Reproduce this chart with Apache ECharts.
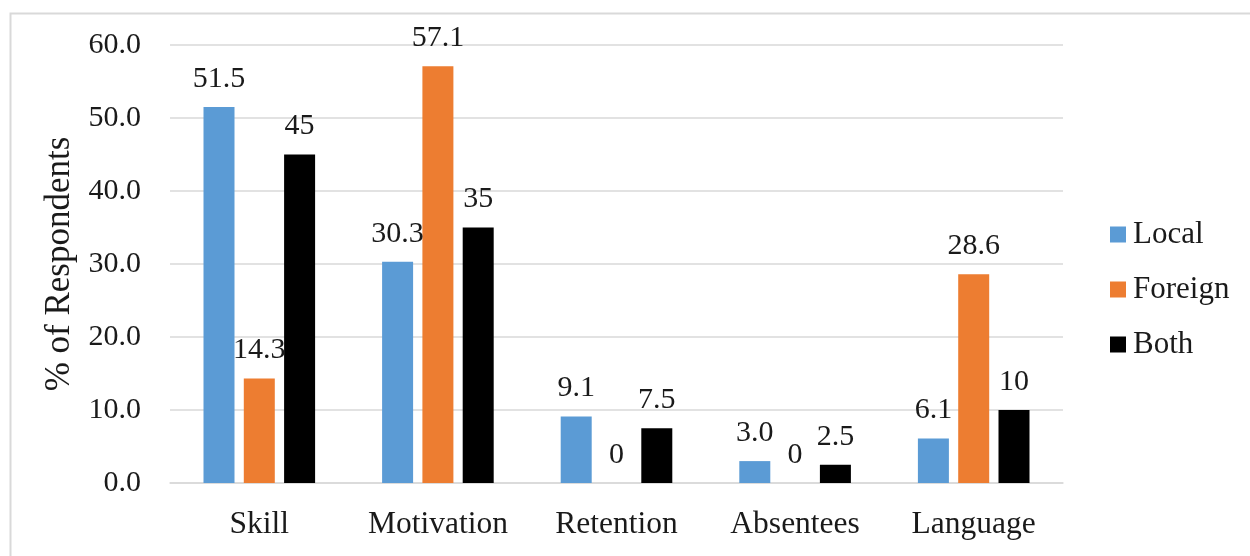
<!DOCTYPE html>
<html>
<head>
<meta charset="utf-8">
<script src="https://cdn.jsdelivr.net/npm/echarts@6/dist/echarts.min.js"></script>
<style>
  html, body { margin: 0; padding: 0; background: #fff; }
  #chart { width: 1250px; height: 556px; }
</style>
</head>
<body>
<div id="chart"></div>
<script>
// Share of respondents by factor and employee group
const categories = ['Skill', 'Motivation', 'Retention', 'Absentees', 'Language'];
const localValues = [51.5, 30.3, 9.1, 3.0, 6.1];
const foreignValues = [14.3, 57.1, 0, 0, 28.6];
const bothValues = [45, 35, 7.5, 2.5, 10];
const seriesNames = ['Local', 'Foreign', 'Both'];
const yAxisTitle = '% of Respondents';

const FONT = '"Liberation Serif", "Times New Roman", serif';
const TEXT = '#1a1a1a';
const GRID = '#d9d9d9';

function barSeries(name, data, color, fmt) {
  return {
    name: name,
    type: 'bar',
    data: data,
    barWidth: 31,
    barGap: '30%',
    itemStyle: { color: color },
    label: {
      show: true,
      position: 'top',
      distance: 13,
      fontFamily: FONT,
      fontSize: 30,
      color: TEXT,
      formatter: fmt
    }
  };
}

const chart = echarts.init(document.getElementById('chart'), null, { renderer: 'canvas' });
chart.setOption({
  animation: false,
  backgroundColor: '#fff',
  graphic: [{
    type: 'rect',
    left: 8, top: 11,
    shape: { width: 1270, height: 570 },
    style: { fill: 'none', stroke: GRID, lineWidth: 2 },
    silent: true
  }],
  grid: { left: 170, right: 187, top: 45, bottom: 73 },
  legend: {
    orient: 'vertical',
    left: 1105,
    top: 214,
    itemWidth: 16,
    itemHeight: 16,
    itemGap: 24,
    icon: 'rect',
    textStyle: { fontFamily: FONT, fontSize: 31, color: TEXT, padding: [0, 0, 0, 2] },
    data: seriesNames
  },
  xAxis: {
    type: 'category',
    data: categories,
    axisLine: { lineStyle: { color: GRID, width: 1.5 } },
    axisTick: { show: false },
    axisLabel: {
      interval: 0, hideOverlap: false,
      fontFamily: FONT, fontSize: 31.5, color: TEXT, margin: 26
    }
  },
  yAxis: {
    type: 'value',
    min: 0,
    max: 60,
    interval: 10,
    name: yAxisTitle,
    nameLocation: 'middle',
    nameGap: 88,
    nameTextStyle: { fontFamily: FONT, fontSize: 35, color: TEXT },
    axisLine: { show: false },
    axisTick: { show: false },
    splitLine: { lineStyle: { color: GRID, width: 1.5 } },
    axisLabel: {
      fontFamily: FONT, fontSize: 30, color: TEXT, margin: 29,
      formatter: v => v.toFixed(1)
    }
  },
  series: [
    barSeries(seriesNames[0], localValues, '#5B9BD5', p => p.value.toFixed(1)),
    barSeries(seriesNames[1], foreignValues, '#ED7D31', p => String(p.value)),
    barSeries(seriesNames[2], bothValues, '#000000', p => String(p.value))
  ]
});
</script>
</body>
</html>
